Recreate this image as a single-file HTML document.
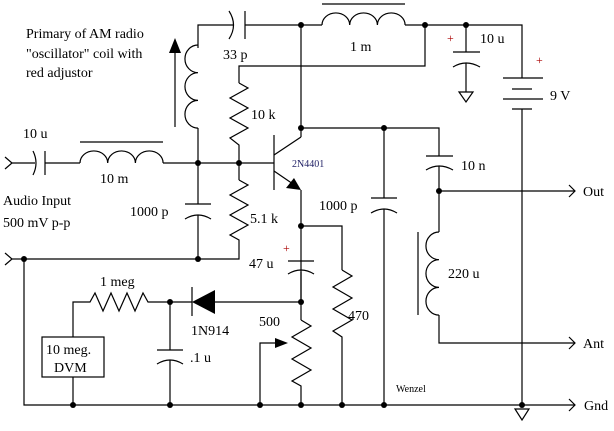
<!DOCTYPE html>
<html><head><meta charset="utf-8"><style>
html,body{margin:0;padding:0;background:#fff;}
svg{display:block;}
text{font-family:"Liberation Serif",serif;font-size:14px;fill:#000;}
</style></head><body>
<svg width="614" height="431" viewBox="0 0 614 431" xmlns="http://www.w3.org/2000/svg">
<g fill="none" stroke="#000" stroke-width="1.2">
<!-- top wire -->
<polyline points="198,48 198,25 233,25"/>
<line x1="245" y1="25" x2="322" y2="25"/>
<path d="M229 11 Q238 25 229 39"/>
<line x1="245" y1="11" x2="245" y2="39"/>
<path d="M322 25 a13.8 12 0 0 1 27.7 0 a13.8 12 0 0 1 27.7 0 a13.8 12 0 0 1 27.7 0"/>
<line x1="322" y1="4" x2="405" y2="4"/>
<polyline points="405,25 522,25 522,78"/>
<polyline points="425,25 425,66 239,66 239,83"/>
<!-- 10u electrolytic -->
<line x1="466" y1="25" x2="466" y2="52"/>
<line x1="453" y1="52" x2="480" y2="52"/>
<path d="M453 67 Q466 59 480 67"/>
<line x1="466" y1="63" x2="466" y2="92"/>
<polygon points="459,92 473,92 466,102"/>
<!-- battery -->
<line x1="503" y1="78" x2="543" y2="78"/>
<line x1="512" y1="89" x2="532" y2="89"/>
<line x1="503" y1="99" x2="543" y2="99"/>
<line x1="512" y1="109" x2="532" y2="109"/>
<line x1="522" y1="109" x2="522" y2="405"/>
<polygon points="515,409 529,409 522,420"/>
<!-- collector rail -->
<line x1="301" y1="25" x2="301" y2="137"/>
<polyline points="301,128 439,128 439,156"/>
<line x1="426" y1="156" x2="453" y2="156"/>
<path d="M426 170 Q439 162 453 170"/>
<line x1="439" y1="166" x2="439" y2="232"/>
<polyline points="439,191 575,191"/>
<polyline points="569,185 575,191 569,197"/>
<!-- 220u -->
<path d="M439 232 a13 13.8 0 0 0 0 27.7 a13 13.8 0 0 0 0 27.7 a13 13.8 0 0 0 0 27.7"/>
<line x1="418" y1="232" x2="418" y2="315"/>
<polyline points="439,315 439,343 575,343"/>
<polyline points="569,337 575,343 569,349"/>
<!-- 1000p right -->
<line x1="384" y1="128" x2="384" y2="198"/>
<line x1="371" y1="198" x2="397" y2="198"/>
<path d="M371 213 Q384 205 397 213"/>
<line x1="384" y1="209" x2="384" y2="405"/>
<!-- osc coil -->
<path d="M198 45 a13 13.8 0 0 0 0 27.7 a13 13.8 0 0 0 0 27.7 a13 13.8 0 0 0 0 27.7"/>
<line x1="198" y1="128" x2="198" y2="204"/>
<line x1="175" y1="127" x2="175" y2="50"/>
<!-- input -->
<polyline points="5,157 12,163 5,169"/>
<line x1="12" y1="163" x2="35" y2="163"/>
<path d="M33 151 Q39 163 33 175"/>
<line x1="45" y1="151" x2="45" y2="175"/>
<line x1="45" y1="163" x2="80" y2="163"/>
<path d="M80 163 a13.8 12 0 0 1 27.7 0 a13.8 12 0 0 1 27.7 0 a13.8 12 0 0 1 27.7 0"/>
<line x1="80" y1="142" x2="163" y2="142"/>
<line x1="163" y1="163" x2="274" y2="163"/>
<!-- 10k -->
<polyline points="239,83 248,88 230,98 248,108 230,118 248,128 230,138 239,145 239,180"/>
<!-- 5.1k -->
<polyline points="239,180 248,185 230,195 248,205 230,215 248,225 230,235 239,240 239,259 24,259"/>
<polyline points="5,253 12,259 5,265"/>
<line x1="12" y1="259" x2="24" y2="259"/>
<!-- 1000p left -->
<line x1="185" y1="204" x2="211" y2="204"/>
<path d="M185 219 Q198 211 211 219"/>
<line x1="198" y1="215" x2="198" y2="259"/>
<!-- transistor -->
<line x1="274" y1="135" x2="274" y2="190"/>
<line x1="274" y1="155" x2="301" y2="137"/>
<line x1="274" y1="171" x2="293" y2="184"/>
<line x1="301" y1="190" x2="301" y2="302"/>
<polyline points="301,226 342,226 342,270"/>
<!-- 470 -->
<polyline points="342,270 352,276 333,287 352,298 333,309 352,320 333,331 342,337 342,405"/>
<!-- 47u -->
<line x1="288" y1="261" x2="314" y2="261"/>
<path d="M288 274 Q301 266 314 274"/>
<!-- diode line -->
<line x1="301" y1="272" x2="301" y2="320"/>
<line x1="215" y1="302" x2="301" y2="302"/>
<line x1="192" y1="287" x2="192" y2="316"/>
<line x1="154" y1="302" x2="192" y2="302"/>
<!-- 500 pot -->
<polyline points="301,320 311,326 292,337 311,348 292,359 311,370 292,381 301,386 301,405"/>
<polyline points="260,405 260,343 275,343"/>
<!-- .1u -->
<line x1="170" y1="302" x2="170" y2="350"/>
<line x1="157" y1="350" x2="183" y2="350"/>
<path d="M157 364 Q170 356 183 364"/>
<line x1="170" y1="360" x2="170" y2="405"/>
<!-- 1 meg -->
<polyline points="154,302 148,302 143,293 135,311 127,293 119,311 111,293 103,311 95,293 90,302 73,302 73,337"/>
<rect x="42" y="337" width="62" height="40"/>
<line x1="73" y1="377" x2="73" y2="405"/>
<!-- gnd rail -->
<polyline points="24,259 24,405 575,405"/>
<polyline points="569,399 575,405 569,411"/>
</g>
<g fill="#000">
<polygon points="175,38 169,53 181,53"/>
<polygon points="301,190 286,188 294,178"/>
<polygon points="192,302 215,290 215,314"/>
<polygon points="288,343 275,338 275,348"/>
<g>
<circle cx="301" cy="25" r="3"/><circle cx="425" cy="25" r="3"/><circle cx="466" cy="25" r="3"/>
<circle cx="301" cy="128" r="3"/><circle cx="384" cy="128" r="3"/><circle cx="439" cy="191" r="3"/>
<circle cx="198" cy="163" r="3"/><circle cx="239" cy="163" r="3"/><circle cx="198" cy="259" r="3"/>
<circle cx="24" cy="259" r="3"/><circle cx="301" cy="226" r="3"/><circle cx="301" cy="302" r="3"/>
<circle cx="170" cy="302" r="3"/><circle cx="73" cy="405" r="3"/><circle cx="170" cy="405" r="3"/>
<circle cx="260" cy="405" r="3"/><circle cx="301" cy="405" r="3"/><circle cx="342" cy="405" r="3"/>
<circle cx="384" cy="405" r="3"/><circle cx="522" cy="405" r="3"/>
</g>
</g>
<text x="26" y="38">Primary of AM radio</text>
<text x="26" y="58">"oscillator" coil with</text>
<text x="26" y="77">red adjustor</text>
<text x="223" y="59">33 p</text>
<text x="350" y="51">1 m</text>
<text x="480" y="43">10 u</text>
<text x="447" y="42" style="font-size:12px;fill:#a00">+</text>
<text x="536" y="64" style="font-size:12px;fill:#a00">+</text>
<text x="550" y="100">9 V</text>
<text x="251" y="119">10 k</text>
<text x="23" y="138">10 u</text>
<text x="100" y="183">10 m</text>
<text x="292" y="167" style="font-size:10px;fill:#226">2N4401</text>
<text x="461" y="170">10 n</text>
<text x="583" y="196">Out</text>
<text x="3" y="205">Audio Input</text>
<text x="3" y="227">500 mV p-p</text>
<text x="130" y="216">1000 p</text>
<text x="250" y="223">5.1 k</text>
<text x="319" y="210">1000 p</text>
<text x="283" y="252" style="font-size:12px;fill:#a00">+</text>
<text x="249" y="268">47 u</text>
<text x="448" y="278">220 u</text>
<text x="100" y="286">1 meg</text>
<text x="348" y="320">470</text>
<text x="259" y="326">500</text>
<text x="191" y="335">1N914</text>
<text x="46" y="354">10 meg.</text>
<text x="54" y="372">DVM</text>
<text x="190" y="362">.1 u</text>
<text x="583" y="348">Ant</text>
<text x="396" y="392" style="font-size:10px">Wenzel</text>
<text x="584" y="410">Gnd</text>
</svg>
</body></html>
